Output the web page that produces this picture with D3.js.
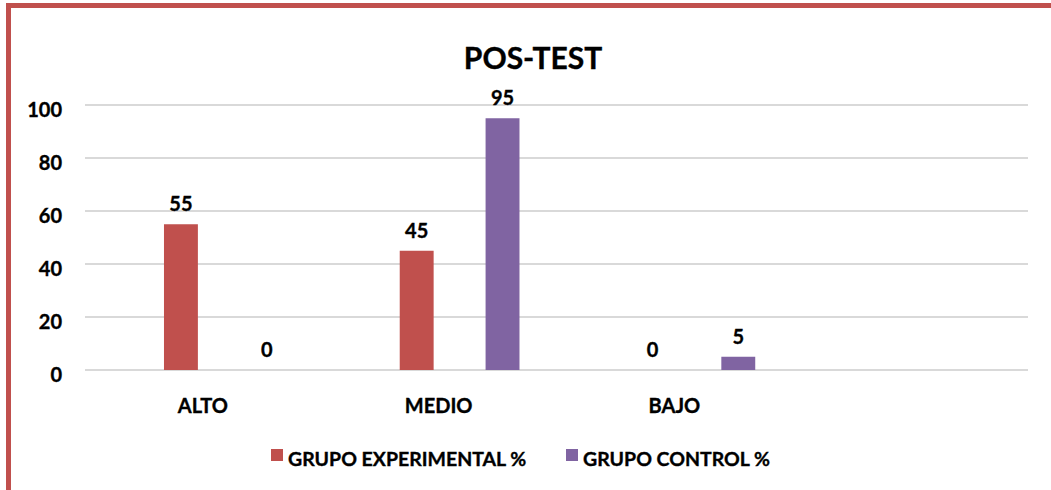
<!DOCTYPE html>
<meta charset="utf-8">
<style>
  body {
    margin: 0;
    font-family: 'Lato', sans-serif;
    background: #fff;
  }

  .grid line {
    stroke: #d9d9d9;
    stroke-width: 1.5;
    shape-rendering: crispEdges;
  }

  .axis path,
  .axis line {
    display: none;
  }

  /* Calibri bold is heavier than Lato bold, thicken a little */
  .axis text,
  .valueLabel,
  .legendText,
  .title {
    font-family: 'Lato', sans-serif;
    font-weight: bold;
    font-size: 20px;
    fill: #000;
    stroke: #000;
    stroke-width: 0.35;
  }

  .legendText {
    font-size: 19.5px;
  }
</style>

<body>
  <div id="my_dataviz"></div>
  <script src="https://d3js.org/d3.v7.min.js"></script>

  <script>
    // data
    var categories = ["ALTO", "MEDIO", "BAJO", ""];
    var series = ["GRUPO EXPERIMENTAL %", "GRUPO CONTROL %"];
    var experimental = [55, 45, 0];
    var control = [0, 95, 5];
    var yTicks = [0, 20, 40, 60, 80, 100];
    var colors = ["#c0504d", "#8064a2"];

    // dimensions and margins
    var W = 1051,
      H = 490;
    var margin = {
        top: 105,
        right: 23,
        bottom: 120,
        left: 85
      },
      width = W - margin.left - margin.right,
      height = H - margin.top - margin.bottom;

    var root = d3.select("#my_dataviz")
      .append("svg")
      .attr("width", W)
      .attr("height", H);

    // red frame (only top and left show)
    root.append("rect")
      .attr("x", 8.5)
      .attr("y", 5.5)
      .attr("width", W + 20)
      .attr("height", H + 20)
      .style("fill", "none")
      .style("stroke", "#c0504d")
      .style("stroke-width", 5);

    var svg = root.append("g")
      .attr("transform", "translate(" + margin.left + "," + margin.top + ")");

    // scales
    var x = d3.scaleBand()
      .domain(categories)
      .range([0, width]);

    var xSub = d3.scaleBand()
      .domain(series)
      .range([x.bandwidth() * 0.335, x.bandwidth() * 0.843])
      .paddingInner(0.605);

    var y = d3.scaleLinear()
      .domain([0, 100])
      .range([height, 0]);

    // gridlines
    svg.append("g")
      .attr("class", "grid")
      .selectAll("line")
      .data(yTicks)
      .enter()
      .append("line")
      .attr("x1", 0)
      .attr("x2", width)
      .attr("y1", function(d) { return y(d); })
      .attr("y2", function(d) { return y(d); });

    // y axis labels
    svg.append("g")
      .attr("class", "axis")
      .attr("transform", "translate(-23,5)")
      .call(d3.axisLeft(y).tickValues(yTicks).tickSize(0).tickPadding(0));

    // x axis labels
    svg.append("g")
      .attr("class", "axis")
      .attr("transform", "translate(0," + height + ")")
      .call(d3.axisBottom(x).tickSize(0).tickPadding(0))
      .selectAll("text")
      .attr("dy", null)
      .attr("y", 43);

    // table of bars
    var rows = [];
    categories.slice(0, 3).forEach(function(c, i) {
      rows.push({ cat: c, s: series[0], v: experimental[i], col: colors[0] });
      rows.push({ cat: c, s: series[1], v: control[i], col: colors[1] });
    });

    svg.selectAll("rect.bar")
      .data(rows)
      .enter()
      .append("rect")
      .attr("class", "bar")
      .attr("x", function(d) { return x(d.cat) + xSub(d.s); })
      .attr("y", function(d) { return y(d.v); })
      .attr("width", xSub.bandwidth())
      .attr("height", function(d) { return height - y(d.v); })
      .style("fill", function(d) { return d.col; });

    svg.selectAll("text.valueLabel")
      .data(rows)
      .enter()
      .append("text")
      .attr("class", "valueLabel")
      .attr("x", function(d) { return x(d.cat) + xSub(d.s) + xSub.bandwidth() / 2; })
      .attr("y", function(d) { return y(d.v) - 13; })
      .attr("text-anchor", "middle")
      .text(function(d) { return d.v; });

    // title
    root.append("text")
      .attr("class", "title")
      .attr("x", 533)
      .attr("y", 69)
      .attr("text-anchor", "middle")
      .style("font-size", "30px")
      .text("POS-TEST");

    // legend
    var legendX = [271, 566];
    series.forEach(function(s, i) {
      root.append("rect")
        .attr("x", legendX[i])
        .attr("y", 449)
        .attr("width", 12)
        .attr("height", 12)
        .style("fill", colors[i]);
      root.append("text")
        .attr("class", "legendText")
        .attr("x", legendX[i] + 17)
        .attr("y", 466)
        .text(s);
    });
  </script>
</body>
